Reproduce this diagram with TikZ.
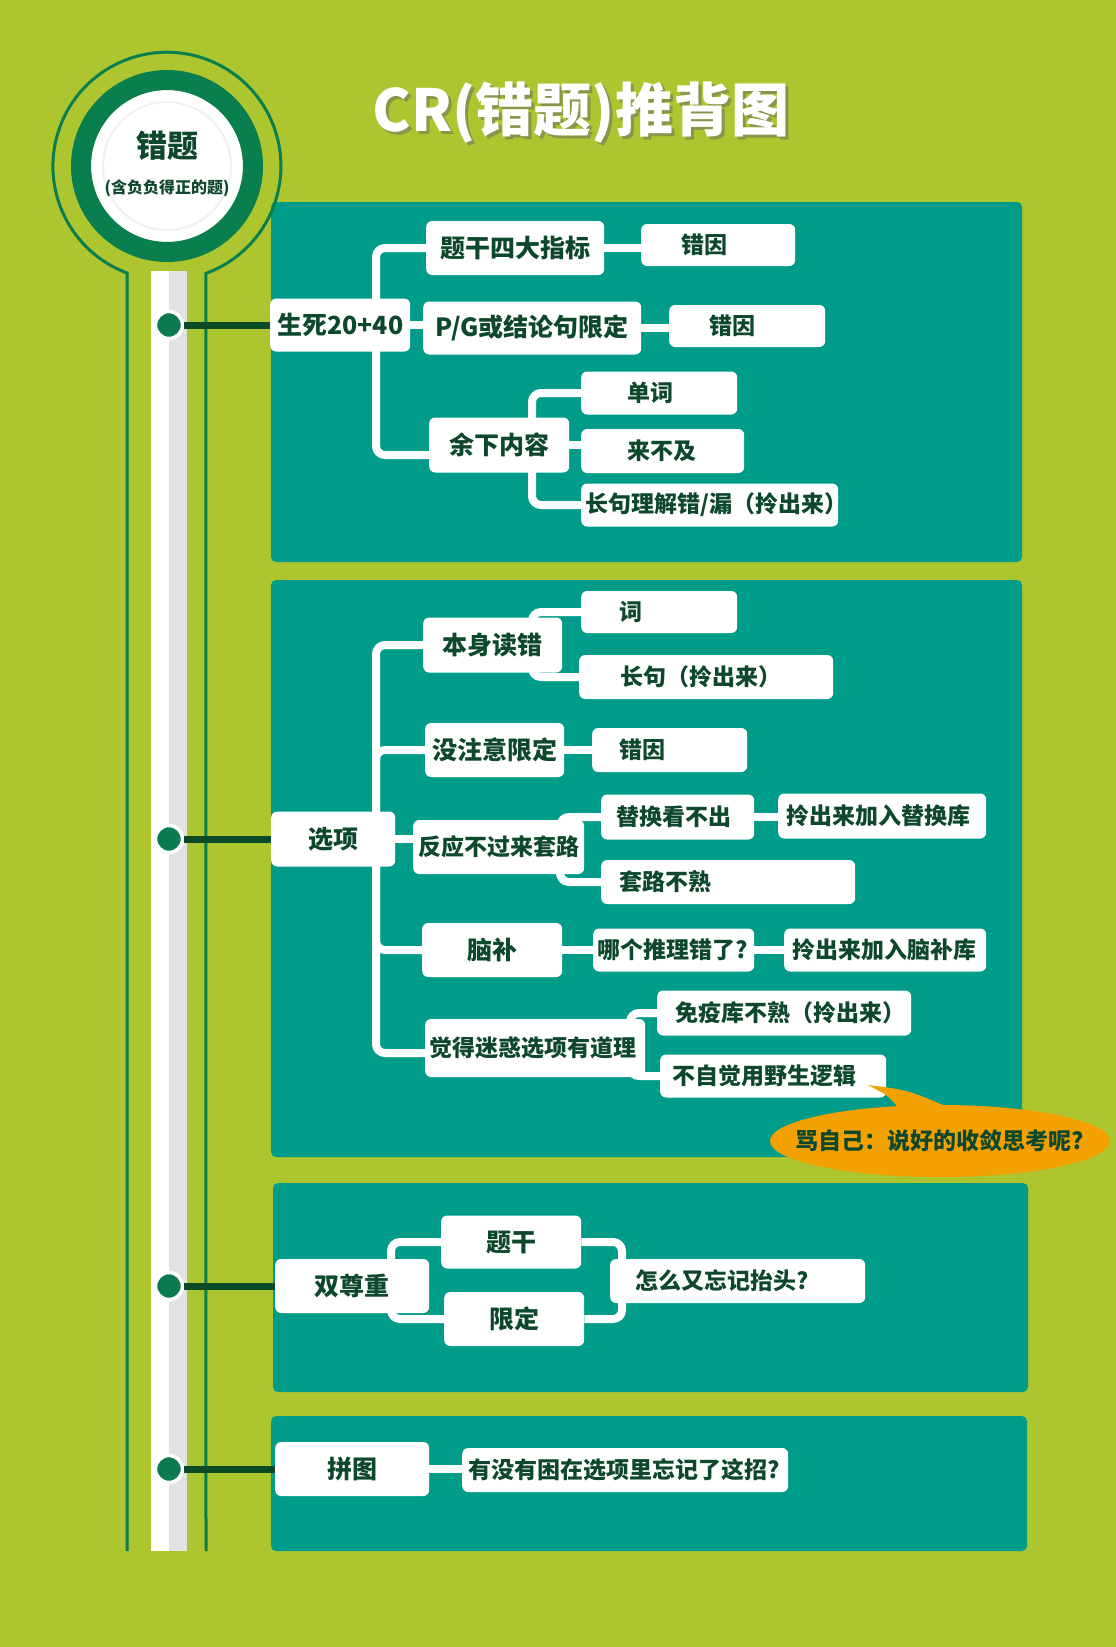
\documentclass[tikz,border=0pt]{standalone}
\usepackage{fontspec}
\setmainfont{Noto Sans CJK SC}
\usetikzlibrary{backgrounds}

\definecolor{bgc}{RGB}{173,197,46}
\definecolor{panelc}{RGB}{0,156,138}
\definecolor{txtc}{RGB}{14,72,44}
\definecolor{ringc}{RGB}{9,126,78}
\definecolor{spinec}{RGB}{10,74,38}
\definecolor{dotc}{RGB}{10,122,80}
\definecolor{barc}{RGB}{226,226,226}
\definecolor{orangec}{RGB}{243,161,0}

% box contents: fixed width, text left with a pad or centred
\newcommand{\boxl}[3]{\makebox[#1pt][l]{\hspace*{#2pt}#3}}
\newcommand{\boxc}[2]{\makebox[#1pt]{#2}}

\tikzset{
  box/.style={fill=white, rounded corners=6pt, text=txtc, inner sep=0pt, anchor=west},
  big/.style={box, font=\bfseries\fontsize{25}{28}\selectfont},
  small/.style={box, font=\bfseries\fontsize{23}{26}\selectfont},
  bh/.style={minimum height=#1pt},
  link/.style={white, line width=8pt, rounded corners=9pt},
  spine/.style={spinec, line width=7pt},
  dot/.style={circle, fill=dotc, draw=white, line width=3.5pt, minimum size=27pt, inner sep=0pt}
}

\begin{document}
\begin{tikzpicture}[x=1pt, y=-1pt]
  \useasboundingbox (0,0) rectangle (1116,1647);

  % --- background and panels ---
  \begin{scope}[on background layer]
    \fill[bgc] (0,0) rectangle (1116,1647);
    \fill[panelc, rounded corners=5pt] (271,202) rectangle (1022,562);
    \fill[panelc, rounded corners=5pt] (271,580) rectangle (1022,1157);
    \fill[panelc, rounded corners=5pt] (273,1183) rectangle (1028,1392);
    \fill[panelc, rounded corners=5pt] (271,1416) rectangle (1027,1551);
  \end{scope}

  % --- timeline: outline, bar, head ---
  \draw[ringc, line width=3pt] (127,1551) -- (127,273)
    arc[start angle=110.5, end angle=430, radius=114] -- (206,1551);
  \fill[white] (151,271) rectangle (187,1551);
  \fill[barc] (169,271) rectangle (187,1551);
  \fill[white] (167,166) circle[radius=76];
  \draw[gray!12, line width=2pt] (167,166) circle[radius=64];
  \draw[ringc, line width=20pt] (167,166) circle[radius=86];
  \node[text=txtc, font=\bfseries\fontsize{31}{33}\selectfont] (hub) at (167,146) {错题};
  \node[text=txtc, font=\bfseries\fontsize{16}{18}\selectfont] (hubnote) at (167,188) {(含负负得正的题)};

  % title
  \node[text=black!60, opacity=0.5, font=\bfseries\fontsize{58}{60}\selectfont] (titleshadow) at (584,116) {CR(错题)推背图};
  \node[text=white, font=\bfseries\fontsize{58}{60}\selectfont] (title) at (581,113) {CR(错题)推背图};

  % fork points
  \coordinate (fk1) at (376,325);
  \coordinate (fk2) at (532,445);
  \coordinate (fk3) at (376,839);
  \coordinate (fk4) at (532,645);
  \coordinate (fk5) at (560,847);
  \coordinate (fk6) at (630,1048);
  \coordinate (fk7) at (391,1286);
  \coordinate (fk8) at (622,1281);

  % --- panel 1 ---
  \node[big, bh=53] (root1) at (270,325) {\boxc{140}{生死20+40}};
  \node[big, bh=54] (tigan) at (426,248) {\boxc{178}{题干四大指标}};
  \node[small, bh=42] (cy1) at (641,245) {\boxl{154}{40}{错因}};
  \node[big, bh=53] (pg) at (423,328) {\boxc{218}{P/G或结论句限定}};
  \node[small, bh=42] (cy2) at (669,326) {\boxl{156}{40}{错因}};
  \node[big, bh=55] (yuxia) at (429,445) {\boxc{140}{余下内容}};
  \node[small, bh=43] (danci) at (581,393) {\boxl{156}{46}{单词}};
  \node[small, bh=44] (laibuji) at (581,451) {\boxl{163}{46}{来不及}};
  \node[small, bh=43] (changju) at (581,505) {\boxl{257}{4}{长句理解错/漏（拎出来）}};

  % --- panel 2 ---
  \node[big, bh=55] (root2) at (271,839) {\boxc{124}{选项}};
  \node[big, bh=55] (benshen) at (423,645) {\boxc{139}{本身读错}};
  \node[small, bh=42] (ci) at (581,612) {\boxl{156}{38}{词}};
  \node[small, bh=44] (changju2) at (579,677) {\boxl{254}{41}{长句（拎出来）}};
  \node[big, bh=54] (meizhuyi) at (425,750) {\boxc{139}{没注意限定}};
  \node[small, bh=44] (cy3) at (592,750) {\boxl{155}{27}{错因}};
  \node[small, bh=54] (fanying) at (413,847) {\boxc{171}{反应不过来套路}};
  \node[small, bh=45] (tihuan) at (601,817) {\boxl{153}{15}{替换看不出}};
  \node[small, bh=45] (tihuanku) at (778,816) {\boxl{208}{8}{拎出来加入替换库}};
  \node[small, bh=44] (taolu) at (601,882) {\boxl{254}{18}{套路不熟}};
  \node[big, bh=54] (naobu) at (422,950) {\boxc{140}{脑补}};
  \node[small, bh=43] (nage) at (593,950) {\boxl{161}{4}{哪个推理错了?}};
  \node[small, bh=43] (naobuku) at (784,950) {\boxl{202}{8}{拎出来加入脑补库}};
  \node[small, bh=58] (juede) at (425,1048) {\boxl{220}{4}{觉得迷惑选项有道理}};
  \node[small, bh=45] (mianyi) at (657,1013) {\boxl{254}{18}{免疫库不熟（拎出来）}};
  \node[small, bh=43] (buzijue) at (660,1076) {\boxl{226}{12}{不自觉用野生逻辑}};

  % --- panel 3 ---
  \node[big, bh=54] (root3) at (275,1286) {\boxc{154}{双尊重}};
  \node[big, bh=53] (tigan2) at (441,1242) {\boxc{140}{题干}};
  \node[big, bh=54] (xianding) at (444,1319) {\boxc{140}{限定}};
  \node[small, bh=44] (zenme) at (610,1281) {\boxl{255}{25}{怎么又忘记抬头?}};

  % --- panel 4 ---
  \node[big, bh=54] (root4) at (275,1469) {\boxc{154}{拼图}};
  \node[small, bh=44] (q4) at (462,1470) {\boxl{326}{6}{有没有困在选项里忘记了这招?}};

  % --- links, under the boxes ---
  \begin{scope}[on background layer]
    \draw[link] (fk1) |- (tigan);
    \draw[link] (fk1) |- ([yshift=-10pt]yuxia.center);
    \draw[link] (root1) -- (root1 -| pg);
    \draw[link] (tigan) -- (tigan -| cy1);
    \draw[link] (pg) -- (pg -| cy2);
    \draw[link] (fk2) |- (danci);
    \draw[link] (fk2) |- (changju);
    \draw[link] (yuxia) -- (yuxia -| laibuji);

    \foreach \n in {benshen,meizhuyi,naobu} \draw[link] (fk3) |- (\n);
    \draw[link] (fk3) |- ([yshift=-5pt]juede.center);
    \draw[link] (root2) -- (root2 -| fanying);
    \draw[link] (fk4) |- (ci);
    \draw[link] (fk4) |- (changju2);
    \draw[link] (meizhuyi) -- (meizhuyi -| cy3);
    \draw[link] (fk5) |- (tihuan);
    \draw[link] (fk5) |- (taolu);
    \draw[link] (tihuan) -- (tihuan -| tihuanku);
    \draw[link] (naobu) -- (naobu -| naobuku);
    \draw[link] (fk6) |- (mianyi);
    \draw[link] (fk6) |- (buzijue);

    \draw[link] (fk7) |- (tigan2);
    \draw[link] (fk7) |- (xianding);
    \draw[link] (tigan2) -| (fk8);
    \draw[link] (xianding) -| (fk8);
    \draw[link] (root4) -- (root4 -| q4);
  \end{scope}

  % --- dots and spine ties ---
  \node[dot] (d1) at (169,325) {};
  \node[dot] (d2) at (169,839) {};
  \node[dot] (d3) at (169,1286) {};
  \node[dot] (d4) at (169,1469) {};
  \foreach \i in {1,...,4} \draw[spine] (d\i.east) -- (d\i -| root\i.west);

  % callout
  \coordinate (scoldc) at (940,1141);
  \coordinate (tip) at (868,1085);
  \fill[orangec] (scoldc) ellipse[x radius=170, y radius=36];
  \fill[orangec] (900,1110) .. controls (889,1096) .. (tip)
    .. controls (908,1090) .. (950,1108) -- cycle;
  \node[text=txtc, font=\bfseries\fontsize{23}{26}\selectfont] (scold) at (scoldc) {骂自己：说好的收敛思考呢?};
\end{tikzpicture}
\end{document}
